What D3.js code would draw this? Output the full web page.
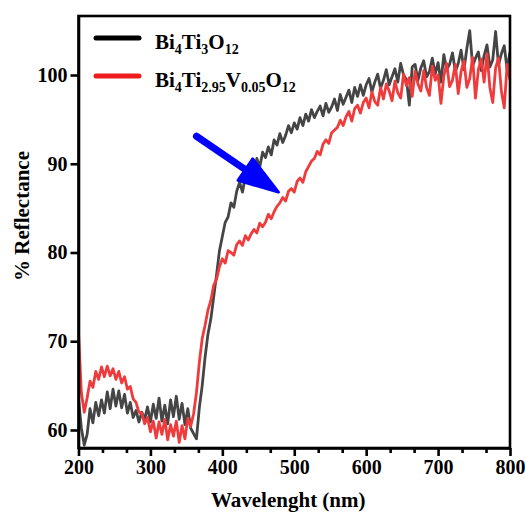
<!DOCTYPE html>
<html lang="en">
<head>
    <meta charset="UTF-8">
    <title>Reflectance</title>
    <script src="https://d3js.org/d3.v7.min.js"></script>
    <style>
        body { margin: 0; background: #fff; }
        text { font-family: "Liberation Serif", "Times New Roman", serif; font-weight: bold; }
    </style>
</head>
<body>
    <script>
        var width = 525;
        var height = 512;

        // wavelengths (nm)
        var wavelength = [200,204,208,212,216,220,224,228,232,236,240,244,248,252,256,260,264,268,272,276,
            280,284,288,292,296,300,304,308,312,316,320,324,328,332,336,340,344,348,352,356,
            360,364,368,372,376,380,384,388,392,396,400,404,408,412,416,420,424,428,432,436,
            440,444,448,452,456,460,464,468,472,476,480,484,488,492,496,500,504,508,512,516,
            520,524,528,532,536,540,544,548,552,556,560,564,568,572,576,580,584,588,592,596,
            600,604,608,612,616,620,624,628,632,636,640,644,648,652,656,660,664,668,672,676,
            680,684,688,692,696,700,704,708,712,716,720,724,728,732,736,740,744,748,752,756,
            760,764,768,772,776,780,784,788,792,796,800];

        // Bi4Ti3O12
        var pureTi = [63.5,60.2,58.3,59.5,62.4,60.8,63.1,61.6,63.4,61.9,
            64.3,62.4,64.6,62.7,64.4,62.5,64.0,61.9,63.1,61.4,
            62.2,60.9,62.0,61.2,62.6,60.9,62.9,61.3,63.6,61.0,
            62.8,60.7,63.4,61.5,63.8,61.2,63.0,60.6,62.4,60.2,
            59.6,59.0,62.5,65.0,68.2,70.8,72.5,75.0,77.5,80.2,
            81.8,83.4,84.0,85.6,85.1,86.9,87.9,86.8,88.6,88.2,
            89.9,88.9,90.6,89.6,91.3,90.7,91.9,91.0,92.7,92.1,
            93.4,92.4,93.2,94.3,93.5,94.6,93.9,95.2,94.3,95.6,
            94.8,96.1,95.2,95.9,96.5,95.4,96.8,95.8,96.4,97.3,
            96.0,97.8,96.7,97.5,98.3,96.9,98.6,97.6,98.9,97.7,
            98.9,99.6,98.1,99.2,100.1,98.5,99.4,100.6,98.9,99.8,
            100.7,99.2,101.3,100.0,99.5,96.6,100.9,101.2,99.4,100.8,
            101.6,99.8,100.4,101.9,100.1,101.4,99.2,102.3,100.6,101.2,
            102.5,100.4,101.3,102.8,100.6,103.0,105.0,101.0,101.9,102.6,
            100.5,102.2,103.4,100.9,101.7,104.9,101.1,102.4,103.3,100.6,
            102.6];

        // Bi4Ti2.95V0.05O12
        var dopedV = [71.0,64.2,62.0,63.6,65.5,64.8,66.6,65.7,67.1,66.0,
            67.2,66.1,66.9,65.7,66.6,65.3,66.0,64.6,64.9,63.5,
            63.1,62.0,61.9,60.7,61.4,59.8,61.0,59.1,60.9,59.5,
            61.2,58.9,60.6,59.3,61.0,58.6,60.5,59.0,61.3,60.4,
            61.8,64.2,67.6,70.3,71.8,73.5,74.6,76.3,77.0,78.4,
            79.3,78.8,80.2,80.0,79.7,80.9,81.3,80.8,81.9,81.4,
            82.1,82.6,82.2,83.3,82.9,83.4,84.3,83.8,84.6,85.2,
            85.6,86.2,85.8,86.9,87.2,86.8,88.0,88.4,87.9,89.1,
            89.7,90.3,90.6,91.4,91.0,92.2,92.7,92.3,93.5,93.8,
            94.1,94.9,94.3,95.3,95.9,94.8,96.2,96.6,95.7,96.9,
            97.4,96.3,98.1,97.0,96.6,98.6,97.3,99.0,98.2,97.1,
            99.3,98.0,97.4,100.1,98.8,99.7,97.6,100.4,99.0,98.2,
            100.5,98.6,97.7,101.0,99.4,100.0,96.8,99.9,101.3,98.7,
            99.4,101.2,97.9,100.4,101.6,98.6,99.6,102.0,97.4,100.6,
            101.8,99.2,102.4,98.6,96.9,100.8,101.9,98.2,96.3,101.2,
            99.4];

        var xTicks = [200,300,400,500,600,700,800];
        var yTicks = [60,70,80,90,100];
        // arrow: [wavelength, reflectance] of tail and tip
        var arrowFrom = [364, 93.1];
        var arrowTo = [478, 86.8];

        var mLeft = 78.5, mRight = 510, mTop = 16, mBottom = 448;

        var svg = d3.select("body").append("svg")
            .attr("width", width)
            .attr("height", height)

        var xScale = d3.scaleLinear().domain([200, 800]).range([mLeft, mRight])
        var yScale = d3.scaleLinear().domain([57.97, 106.65]).range([mBottom, mTop])

        svg.append("defs").append("clipPath").attr("id", "clip")
            .append("rect")
            .attr("x", mLeft).attr("y", mTop)
            .attr("width", mRight - mLeft).attr("height", mBottom - mTop)

        var line = d3.line()
            .x((d, i) => xScale(wavelength[i]))
            .y(d => yScale(d))

        var plot = svg.append("g").attr("clip-path", "url(#clip)")

        plot.append("path")
            .datum(pureTi)
            .attr("d", line)
            .attr("fill", "none")
            .attr("stroke", "#454545")
            .attr("stroke-width", 2.8)
            .attr("stroke-linejoin", "round")

        plot.append("path")
            .datum(dopedV)
            .attr("d", line)
            .attr("fill", "none")
            .attr("stroke", "#ef3b3b")
            .attr("stroke-width", 2.8)
            .attr("stroke-linejoin", "round")

        // blue arrow
        var ax0 = xScale(arrowFrom[0]), ay0 = yScale(arrowFrom[1]);
        var ax1 = xScale(arrowTo[0]), ay1 = yScale(arrowTo[1]);
        var ang = Math.atan2(ay1 - ay0, ax1 - ax0);
        var headLen = 40, headW = 13;
        var bx = ax1 - headLen * Math.cos(ang), by = ay1 - headLen * Math.sin(ang);
        svg.append("line")
            .attr("x1", ax0).attr("y1", ay0)
            .attr("x2", bx + 4 * Math.cos(ang)).attr("y2", by + 4 * Math.sin(ang))
            .attr("stroke", "#0000ff")
            .attr("stroke-width", 7)
            .attr("stroke-linecap", "round")
        svg.append("path")
            .attr("d", "M" + ax1 + "," + ay1 +
                "L" + (bx - headW * Math.sin(ang)) + "," + (by + headW * Math.cos(ang)) +
                "L" + (bx + headW * Math.sin(ang)) + "," + (by - headW * Math.cos(ang)) + "Z")
            .attr("fill", "#0000ff")
            .attr("stroke", "#0000ff")
            .attr("stroke-width", 3)
            .attr("stroke-linejoin", "round")

        // frame
        svg.append("rect")
            .attr("x", mLeft).attr("y", mTop)
            .attr("width", mRight - mLeft).attr("height", mBottom - mTop)
            .attr("fill", "none")
            .attr("stroke", "#000")
            .attr("stroke-width", 2.6)

        // axes
        var xMinor = [];
        xTicks.slice(0, -1).forEach(t => { xMinor.push(t + 100 / 3, t + 200 / 3); });

        svg.append("g")
            .attr("transform", "translate(0," + mBottom + ")")
            .call(d3.axisBottom(xScale).tickValues(xTicks).tickSize(8).tickSizeOuter(0).tickPadding(4))
        svg.append("g")
            .attr("transform", "translate(0," + mBottom + ")")
            .call(d3.axisBottom(xScale).tickValues(xMinor).tickSize(5).tickSizeOuter(0).tickFormat(""))
            .select(".domain").remove()

        svg.append("g")
            .attr("transform", "translate(" + mLeft + ",0)")
            .call(d3.axisLeft(yScale).tickValues(yTicks).tickSize(8).tickSizeOuter(0).tickPadding(3))

        svg.selectAll(".tick line").attr("stroke", "#000").attr("stroke-width", 2.6)
        svg.selectAll(".domain").attr("stroke", "#000").attr("stroke-width", 2.6)
        svg.selectAll(".tick text")
            .attr("font-family", "Liberation Serif")
            .attr("font-weight", "bold")
            .attr("font-size", 20)
            .attr("fill", "#000")

        // axis titles
        svg.append("text")
            .attr("x", (mLeft + mRight) / 2 - 6)
            .attr("y", 507)
            .attr("text-anchor", "middle")
            .attr("font-size", 21)
            .text("Wavelenght (nm)")

        svg.append("text")
            .attr("transform", "translate(29,216) rotate(-90)")
            .attr("text-anchor", "middle")
            .attr("font-size", 21)
            .text("% Reflectance")

        // legend
        var legend = [
            {color: "#000", y: 38, parts: [["Bi", 0], ["4", 1], ["Ti", 0], ["3", 1], ["O", 0], ["12", 1]]},
            {color: "#ee1c1c", y: 76, parts: [["Bi", 0], ["4", 1], ["Ti", 0], ["2.95", 1], ["V", 0], ["0.05", 1], ["O", 0], ["12", 1]]}
        ];
        legend.forEach(function (d) {
            svg.append("line")
                .attr("x1", 96).attr("x2", 139)
                .attr("y1", d.y).attr("y2", d.y)
                .attr("stroke", d.color)
                .attr("stroke-width", 5)
                .attr("stroke-linecap", "round")
            var t = svg.append("text")
                .attr("x", 155)
                .attr("y", d.y + 11)
                .attr("font-size", 21)
            var sub = false;
            d.parts.forEach(function (p) {
                var ts = t.append("tspan").text(p[0]);
                if (p[1] && !sub) { ts.attr("dy", 5).attr("font-size", 14); sub = true; }
                else if (p[1]) { ts.attr("font-size", 14); }
                else if (sub) { ts.attr("dy", -5); sub = false; }
            });
        });
    </script>
</body>
</html>
